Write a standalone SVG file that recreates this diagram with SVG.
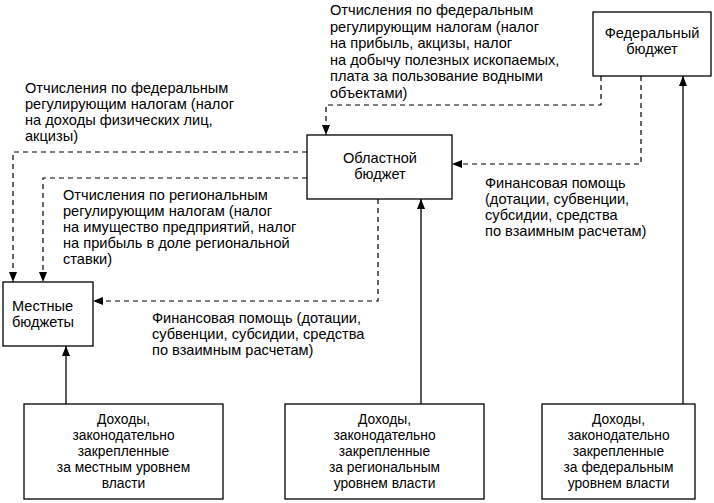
<svg xmlns="http://www.w3.org/2000/svg" width="714" height="503" viewBox="0 0 714 503">
<style>
.box{fill:#fff;stroke:#000;stroke-width:1.3}
.lbl{font-family:"Liberation Sans",Arial,sans-serif;font-size:14.6px;fill:#000}
.ctr{font-family:"Liberation Sans",Arial,sans-serif;font-size:14.6px;fill:#000;text-anchor:middle}
.bt{font-family:"Liberation Sans",Arial,sans-serif;font-size:13.8px;fill:#000;text-anchor:middle}
.dash{fill:none;stroke:#000;stroke-width:1.2;stroke-dasharray:5 4}
.solid{fill:none;stroke:#000;stroke-width:1.3}
</style>
<defs>
<marker id="ah" markerUnits="userSpaceOnUse" markerWidth="10" markerHeight="8" refX="10" refY="4" orient="auto">
<path d="M0,0 L10,4 L0,8 z" fill="#000"/>
</marker>
</defs>
<rect width="714" height="503" fill="#fff"/>
<g id="connectors">
<path class="dash" d="M601,76 V105 H326 V135" marker-end="url(#ah)"/>
<path class="dash" d="M641,76 V164 H452" marker-end="url(#ah)"/>
<path class="dash" d="M307,152 H13 V282" marker-end="url(#ah)"/>
<path class="dash" d="M307,178 H43 V282" marker-end="url(#ah)"/>
<path class="dash" d="M378,199 V301 H93" marker-end="url(#ah)"/>
<path class="solid" d="M66,404 V346" marker-end="url(#ah)"/>
<path class="solid" d="M421,404 V199" marker-end="url(#ah)"/>
<path class="solid" d="M683,404 V76" marker-end="url(#ah)"/>
</g>
<g id="federal">
<rect class="box" x="593" y="12" width="118" height="64"/>
<text class="ctr" x="652" y="38">Федеральный</text>
<text class="ctr" x="652" y="54">бюджет</text>
</g>
<g id="oblast">
<rect class="box" x="307" y="135" width="145" height="64"/>
<text class="ctr" x="380" y="163">Областной</text>
<text class="ctr" x="380" y="179">бюджет</text>
</g>
<g id="local">
<rect class="box" x="3" y="282" width="90" height="64"/>
<text class="lbl" x="12" y="311">Местные</text>
<text class="lbl" x="12" y="327">бюджеты</text>
</g>
<g id="income-local">
<rect class="box" x="24" y="404" width="199" height="95"/>
<text class="bt" x="123.5" y="424">Доходы,</text>
<text class="bt" x="123.5" y="440">законодательно</text>
<text class="bt" x="123.5" y="456">закрепленные</text>
<text class="bt" x="123.5" y="472">за местным уровнем</text>
<text class="bt" x="123.5" y="488">власти</text>
</g>
<g id="income-regional">
<rect class="box" x="285" y="404" width="199" height="95"/>
<text class="bt" x="384.5" y="424">Доходы,</text>
<text class="bt" x="384.5" y="440">законодательно</text>
<text class="bt" x="384.5" y="456">закрепленные</text>
<text class="bt" x="384.5" y="472">за региональным</text>
<text class="bt" x="384.5" y="488">уровнем власти</text>
</g>
<g id="income-federal">
<rect class="box" x="542" y="404" width="153" height="95"/>
<text class="bt" x="618.5" y="424">Доходы,</text>
<text class="bt" x="618.5" y="440">законодательно</text>
<text class="bt" x="618.5" y="456">закрепленные</text>
<text class="bt" x="618.5" y="472">за федеральным</text>
<text class="bt" x="618.5" y="488">уровнем власти</text>
</g>
<g id="labels">
<text class="lbl" x="330" y="15">Отчисления по федеральным</text>
<text class="lbl" x="330" y="31.5">регулирующим налогам (налог</text>
<text class="lbl" x="330" y="48">на прибыль, акцизы, налог</text>
<text class="lbl" x="330" y="64.5">на добычу полезных ископаемых,</text>
<text class="lbl" x="330" y="81">плата за пользование водными</text>
<text class="lbl" x="330" y="97.5">объектами)</text>
<text class="lbl" x="25" y="93">Отчисления по федеральным</text>
<text class="lbl" x="25" y="109">регулирующим налогам (налог</text>
<text class="lbl" x="25" y="125">на доходы физических лиц,</text>
<text class="lbl" x="25" y="141">акцизы)</text>
<text class="lbl" x="63" y="200">Отчисления по региональным</text>
<text class="lbl" x="63" y="216">регулирующим налогам (налог</text>
<text class="lbl" x="63" y="232">на имущество предприятий, налог</text>
<text class="lbl" x="63" y="248">на прибыль в доле региональной</text>
<text class="lbl" x="63" y="264">ставки)</text>
<text class="lbl" x="485" y="188">Финансовая помощь</text>
<text class="lbl" x="485" y="204">(дотации, субвенции,</text>
<text class="lbl" x="485" y="220">субсидии, средства</text>
<text class="lbl" x="485" y="236">по взаимным расчетам)</text>
<text class="lbl" x="152" y="323">Финансовая помощь (дотации,</text>
<text class="lbl" x="152" y="339">субвенции, субсидии, средства</text>
<text class="lbl" x="152" y="355">по взаимным расчетам)</text>
</g>
</svg>
